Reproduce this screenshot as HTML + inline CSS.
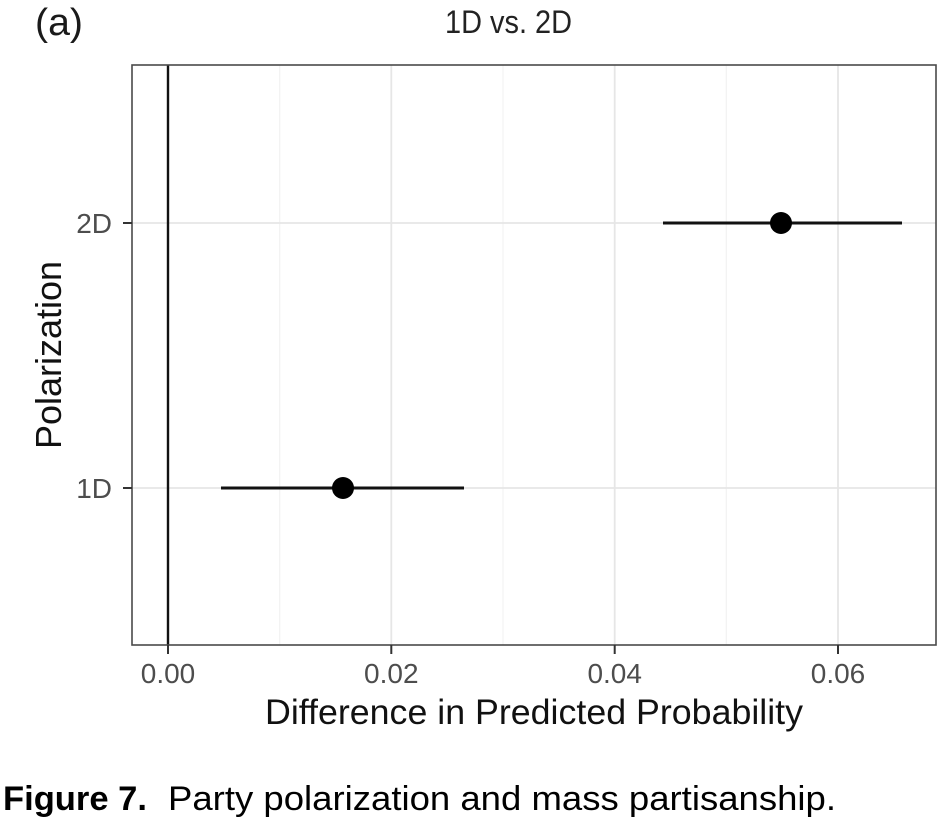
<!DOCTYPE html>
<html>
<head>
<meta charset="utf-8">
<style>
  html, body { margin:0; padding:0; background:#ffffff; }
  svg { display:block; }
  text { font-family: "Liberation Sans", "DejaVu Sans", sans-serif; }
</style>
</head>
<body>
<svg width="944" height="826" viewBox="0 0 944 826" xmlns="http://www.w3.org/2000/svg">
  <rect x="0" y="0" width="944" height="826" fill="#ffffff"/>

  <!-- panel label and title -->
  <text x="35" y="35" font-size="38" fill="#1a1a1a" textLength="48" lengthAdjust="spacingAndGlyphs">(a)</text>
  <text x="445" y="33" font-size="32" fill="#222" textLength="127" lengthAdjust="spacingAndGlyphs">1D vs. 2D</text>

  <!-- panel background -->
  <rect x="132" y="65" width="804" height="580" fill="#ffffff"/>

  <!-- minor vertical grid -->
  <g stroke="#f2f2f2" stroke-width="1.2">
    <line x1="279.7" y1="65" x2="279.7" y2="645"/>
    <line x1="503" y1="65" x2="503" y2="645"/>
    <line x1="726.3" y1="65" x2="726.3" y2="645"/>
  </g>
  <!-- major grid -->
  <g stroke="#e6e6e6" stroke-width="1.8">
    <line x1="391.3" y1="65" x2="391.3" y2="645"/>
    <line x1="614.7" y1="65" x2="614.7" y2="645"/>
    <line x1="838" y1="65" x2="838" y2="645"/>
    <line x1="132" y1="223" x2="936" y2="223"/>
    <line x1="132" y1="488" x2="936" y2="488"/>
  </g>

  <!-- zero reference line -->
  <line x1="168" y1="65" x2="168" y2="645" stroke="#111" stroke-width="2.4"/>

  <!-- error bars -->
  <g stroke="#111" stroke-width="3">
    <line x1="663" y1="223" x2="902" y2="223"/>
    <line x1="221" y1="488" x2="464" y2="488"/>
  </g>
  <circle cx="781" cy="223" r="11" fill="#000"/>
  <circle cx="343" cy="488" r="11" fill="#000"/>

  <!-- panel border -->
  <rect x="132" y="65" width="804" height="580" fill="none" stroke="#4a4a4a" stroke-width="1.6"/>

  <!-- x ticks -->
  <g stroke="#333" stroke-width="2">
    <line x1="168" y1="645" x2="168" y2="654"/>
    <line x1="391.3" y1="645" x2="391.3" y2="654"/>
    <line x1="614.7" y1="645" x2="614.7" y2="654"/>
    <line x1="838" y1="645" x2="838" y2="654"/>
  </g>
  <g font-size="28" fill="#4d4d4d" text-anchor="middle">
    <text x="168" y="683">0.00</text>
    <text x="391.3" y="683">0.02</text>
    <text x="614.7" y="683">0.04</text>
    <text x="838" y="683">0.06</text>
  </g>

  <!-- y ticks -->
  <g stroke="#333" stroke-width="2">
    <line x1="123" y1="223" x2="132" y2="223"/>
    <line x1="123" y1="488" x2="132" y2="488"/>
  </g>
  <g font-size="28" fill="#4d4d4d" text-anchor="end">
    <text x="112" y="233">2D</text>
    <text x="112" y="498">1D</text>
  </g>

  <!-- axis titles -->
  <text x="265" y="724" font-size="35.5" fill="#111" textLength="538" lengthAdjust="spacingAndGlyphs">Difference in Predicted Probability</text>
  <text transform="translate(61,355) rotate(-90)" x="0" y="0" font-size="36" fill="#111" text-anchor="middle">Polarization</text>

  <!-- caption -->
  <text x="3" y="810" font-size="34" font-weight="bold" fill="#000" textLength="144" lengthAdjust="spacingAndGlyphs">Figure 7.</text>
  <text x="168" y="810" font-size="34" fill="#000" textLength="668" lengthAdjust="spacingAndGlyphs">Party polarization and mass partisanship.</text>
</svg>
</body>
</html>
